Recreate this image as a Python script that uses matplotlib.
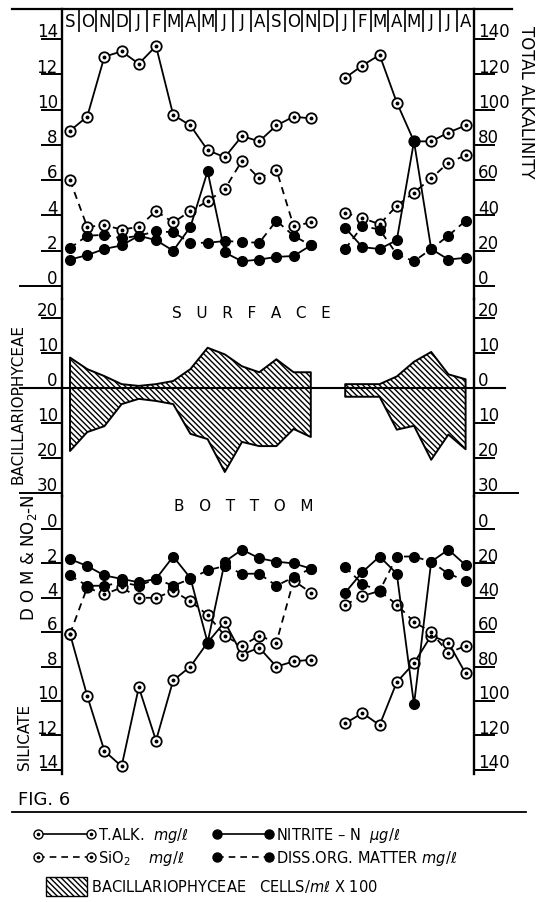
import numpy as np
import matplotlib
matplotlib.use("Agg")
import matplotlib.pyplot as plt
from matplotlib.lines import Line2D
from matplotlib.patches import Patch
from matplotlib.legend_handler import HandlerTuple

plt.rcParams["font.family"] = ["DejaVu Sans"]
plt.rcParams["hatch.linewidth"] = 1.0

# ---------------------------------------------------------------------------
# data; month index 0 = Sept of first year
# ---------------------------------------------------------------------------
months = ["S", "O", "N", "D", "J", "F", "M", "A", "M", "J", "J", "A"] * 2
x1 = np.arange(0, 15)    # Sept .. Nov
x2 = np.arange(16, 24)   # Jan .. Aug

# surface
alk_s1 = [88, 96, 130, 133, 126, 136, 97, 91, 77, 73, 85, 82, 91, 96, 95]
alk_s2 = [118, 125, 131, 104, 82, 82, 87, 91]
sio2_s1 = [6.0, 3.35, 3.45, 3.2, 3.35, 4.25, 3.6, 4.25, 4.8, 5.5, 7.1, 6.1, 6.6, 3.4, 3.6]
sio2_s2 = [4.15, 3.85, 3.5, 4.55, 5.3, 6.1, 7.0, 7.4]
no2_s1 = [1.5, 1.75, 2.1, 2.3, 2.85, 2.6, 2.0, 3.35, 6.5, 1.9, 1.4, 1.5, 1.65, 1.7, 2.3]
no2_s2 = [3.3, 2.2, 2.1, 2.6, 8.2, 2.1, 1.5, 1.6]
dom_s1 = [2.15, 2.85, 2.9, 2.7, 2.85, 3.1, 3.05, 2.45, 2.45, 2.55, 2.5, 2.45, 3.7, 2.85, 2.3]
dom_s2 = [2.1, 3.4, 3.2, 1.8, 1.4, 2.1, 2.85, 3.7]

# bacillariophyceae, cells/ml x 100 (surface drawn up, bottom drawn down)
diat_s1 = [8.7, 5.4, 3.4, 1.1, 0.6, 1.1, 2.0, 5.4, 11.5, 9.6, 6.2, 4.5, 8.2, 4.5, 4.5]
diat_b1 = [18, 12.6, 10.9, 4.6, 3.1, 3.7, 4.6, 13.1, 14.6, 24, 15.4, 16.6, 16.6, 11.7, 14]
diat_s2 = [1.1, 1.1, 1.1, 3.3, 7.5, 10.3, 3.9, 2.5]
diat_b2 = [2.5, 2.5, 2.5, 11.9, 10.8, 20.5, 13.3, 17.5]

# bottom
alk_b1 = [61, 97, 129, 138, 92, 123, 88, 80, 66, 54, 73, 69, 80, 77, 76]
alk_b2 = [113, 107, 114, 89, 78, 62, 66, 84]
sio2_b1 = [6.1, 3.4, 3.8, 3.4, 4.0, 4.0, 3.6, 4.2, 5.0, 6.2, 6.8, 6.2, 6.6, 3.0, 3.7]
sio2_b2 = [4.4, 3.9, 3.6, 4.4, 5.4, 6.0, 7.2, 6.8]
no2_b1 = [1.75, 2.15, 2.7, 2.9, 3.1, 2.9, 1.6, 2.85, 6.6, 1.9, 1.2, 1.7, 1.9, 2.0, 2.3]
no2_b2 = [3.7, 2.5, 1.6, 2.6, 10.2, 1.9, 1.2, 2.1]
dom_b1 = [2.7, 3.3, 3.3, 3.1, 3.3, 2.9, 3.3, 2.9, 2.4, 2.15, 2.6, 2.6, 3.3, 2.8, 2.3]
dom_b2 = [2.2, 3.2, 3.6, 1.6, 1.6, 1.9, 2.6, 3.0]

chem_ticks = [0, 2, 4, 6, 8, 10, 12, 14]
alk_ticks = ["0", "20", "40", "60", "80", "100", "120", "140"]
diat_ticks = [20, 10, 0, -10, -20, -30]

# ---------------------------------------------------------------------------
# layout (pixels)
# ---------------------------------------------------------------------------
W, H = 550, 903
XL, XR = 62, 474          # left / right axis lines
X0, DX = 70, 17.2         # first month position, pixels per month
XLIM = ((XL - X0) / DX, (XR - X0) / DX)
DASH = (0, (4, 3))
HATCH = "\\\\\\\\\\\\"


def px_axes(fig, top, bottom):
    return fig.add_axes([XL / W, 1 - bottom / H, (XR - XL) / W, (bottom - top) / H])


def frame(ax, ylim):
    ax.set_xlim(*XLIM)
    ax.set_ylim(*ylim)
    ax.patch.set_alpha(0)
    for s in ("top", "bottom"):
        ax.spines[s].set_visible(False)
    for s in ("left", "right"):
        ax.spines[s].set_linewidth(1.7)
    ax.set_xticks([])
    ax.tick_params(axis="y", left=True, right=True, labelleft=False,
                   labelright=False, direction="out", width=1.4, length=15)


def ylabels(ax, vals, left_txt, right_txt):
    ax.set_yticks(vals)
    tr = ax.get_yaxis_transform()
    for v, a, b in zip(vals, left_txt, right_txt):
        ax.annotate(a, (0, v), xycoords=tr, xytext=(-3, 2), textcoords="offset points",
                    ha="right", va="baseline", fontsize=12)
        ax.annotate(b, (1, v), xycoords=tr, xytext=(3, 2), textcoords="offset points",
                    ha="left", va="baseline", fontsize=12)


def open_series(ax, x, y, ls):
    ax.plot(x, y, color="k", lw=1.3, ls=ls, marker="o", ms=7.5, mfc="white",
            mec="k", mew=1.3, zorder=3)
    ax.plot(x, y, ls="none", marker="o", ms=1.8, color="k", zorder=4)


def filled_series(ax, x, y, ls):
    ax.plot(x, y, color="k", lw=1.3, ls=ls, marker="o", ms=7, mfc="k", mec="k", zorder=5)


fig = plt.figure(figsize=(W / 100, H / 100), dpi=100)

# --- surface chemistry -----------------------------------------------------
ax_top = px_axes(fig, 10, 300)
frame(ax_top, ((287 - 300) / 17.64, (287 - 10) / 17.64))
ylabels(ax_top, chem_ticks, [str(v) for v in chem_ticks], alk_ticks)
ax_top.axhline(0, xmin=-0.102, xmax=0, color="k", lw=1.4, clip_on=False)
for i, m in enumerate(months):
    ax_top.text(i, 15.0, m, ha="center", va="center", fontsize=12)
ax_top.vlines(np.arange(23) + 0.5, 14.4, 15.7, color="k", lw=1.2)

for x, a, s, n, d in ((x1, alk_s1, sio2_s1, no2_s1, dom_s1),
                      (x2, alk_s2, sio2_s2, no2_s2, dom_s2)):
    open_series(ax_top, x, np.array(a) / 10, "-")
    open_series(ax_top, x, s, DASH)
    filled_series(ax_top, x, n, "-")
    filled_series(ax_top, x, d, DASH)

# --- bacillariophyceae -----------------------------------------------------
ax_mid = px_axes(fig, 300, 497)
frame(ax_mid, (-(497 - 389) / 3.5, (389 - 300) / 3.5))
ylabels(ax_mid, diat_ticks, [str(abs(v)) for v in diat_ticks],
        [str(abs(v)) for v in diat_ticks])
for x, up, dn in ((x1, diat_s1, diat_b1), (x2, diat_s2, diat_b2)):
    ax_mid.fill_between(x, up, -np.array(dn), facecolor="white", edgecolor="k",
                        hatch=HATCH, lw=1.4, zorder=2)
ax_mid.axhline(0, xmin=-0.102, xmax=1.075, color="k", lw=1.5, clip_on=False, zorder=3)
ax_mid.axhline(-30, xmin=-0.102, xmax=0, color="k", lw=1.4, clip_on=False)
ax_mid.axhline(-30, xmin=1, xmax=1.107, color="k", lw=1.4, clip_on=False)

# --- bottom chemistry ------------------------------------------------------
ax_bot = px_axes(fig, 497, 775)
frame(ax_bot, ((775 - 530) / 17.2, (497 - 530) / 17.2))
ylabels(ax_bot, chem_ticks, [str(v) for v in chem_ticks], alk_ticks)
for x, a, s, n, d in ((x1, alk_b1, sio2_b1, no2_b1, dom_b1),
                      (x2, alk_b2, sio2_b2, no2_b2, dom_b2)):
    open_series(ax_bot, x, np.array(a) / 10, "-")
    open_series(ax_bot, x, s, DASH)
    filled_series(ax_bot, x, n, "-")
    filled_series(ax_bot, x, d, DASH)

# --- texts -----------------------------------------------------------------
fig.add_artist(Line2D([12 / W, 512 / W], [1 - 10 / H, 1 - 10 / H], color="k", lw=1.6))
fig.add_artist(Line2D([12 / W, 526 / W], [1 - 813 / H, 1 - 813 / H], color="k", lw=1.3))
fig.text(251 / W, 1 - 314 / H, "S   U   R   F   A   C   E", ha="center", va="center", fontsize=11)
fig.text(244 / W, 1 - 507 / H, "B   O   T   T   O   M", ha="center", va="center", fontsize=11)
fig.text(526 / W, 1 - 102 / H, "TOTAL ALKALINITY", rotation=-90, ha="center", va="center", fontsize=12)
fig.text(18 / W, 1 - 404 / H, "BACILLARIOPHYCEAE", rotation=90, ha="center", va="center", fontsize=11)
fig.text(29 / W, 1 - 558 / H, "D O M & NO$_2$-N", rotation=90, ha="center", va="center", fontsize=12)
fig.text(25 / W, 1 - 737 / H, "SILICATE", rotation=90, ha="center", va="center", fontsize=11)
fig.text(18 / W, 1 - 800 / H, "FIG. 6", ha="left", va="center", fontsize=13)

# --- legend ----------------------------------------------------------------
def open_handle(ls):
    return (Line2D([], [], color="k", lw=1.2, ls=ls, marker="o", ms=6.5, mfc="white", mec="k"),
            Line2D([], [], ls="none", marker="o", ms=1.6, color="k"))


h_alk = open_handle("-")
h_sio = open_handle(DASH)
h_no2 = Line2D([], [], color="k", lw=1.2, marker="o", ms=6.5, mfc="k")
h_dom = Line2D([], [], color="k", lw=1.2, ls=DASH, marker="o", ms=6.5, mfc="k")
fig.legend([h_alk, h_sio, h_no2, h_dom],
           ["T.ALK.  $mg/\\ell$", "SiO$_2$    $mg/\\ell$",
            "NITRITE – N  $\\mu g/\\ell$", "DISS.ORG. MATTER $mg/\\ell$"],
           handler_map={tuple: HandlerTuple(ndivide=1, pad=0)},
           ncol=2, numpoints=2, frameon=False, fontsize=10.5, handlelength=4.2,
           handletextpad=0.2, columnspacing=1.6, labelspacing=0.3, borderaxespad=0,
           loc="upper left", bbox_to_anchor=(28 / W, 1 - 820 / H))
fig.legend([Patch(facecolor="white", edgecolor="k", hatch=HATCH, lw=1.0)],
           ["BACILLARIOPHYCEAE   CELLS/$m\\ell$ X 100"],
           frameon=False, fontsize=10.5, handlelength=2.8, handleheight=1.6,
           handletextpad=0.3, borderaxespad=0,
           loc="upper left", bbox_to_anchor=(40 / W, 1 - 872 / H))

fig.savefig("out.png", dpi=100)
